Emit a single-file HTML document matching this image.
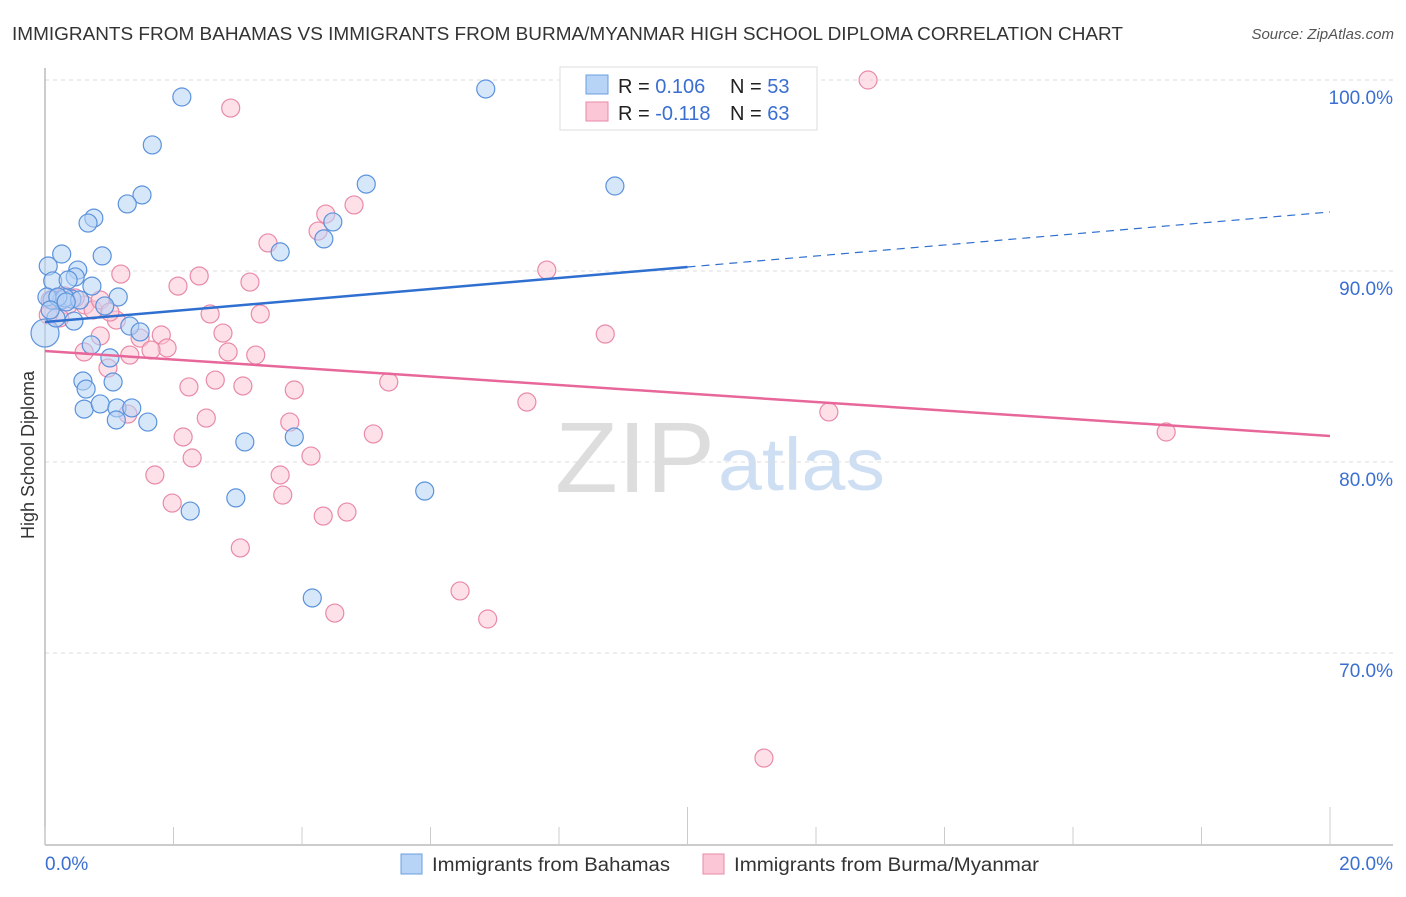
<!DOCTYPE html>
<html><head><meta charset="utf-8"><style>
body{margin:0;background:#fff;font-family:"Liberation Sans",sans-serif}
svg text{font-family:"Liberation Sans",sans-serif}
</style></head><body>
<svg width="1406" height="892" viewBox="0 0 1406 892" id="c">
<text x="12" y="40" font-size="18" fill="#333" textLength="1111" lengthAdjust="spacingAndGlyphs">IMMIGRANTS FROM BAHAMAS VS IMMIGRANTS FROM BURMA/MYANMAR HIGH SCHOOL DIPLOMA CORRELATION CHART</text>
<text x="1394" y="39" font-size="15" fill="#555" font-style="italic" text-anchor="end">Source: ZipAtlas.com</text>
<text x="555" y="492" font-size="100" fill="#ddd" textLength="160" lengthAdjust="spacingAndGlyphs" font-family="Liberation Serif">ZIP</text>
<text x="718" y="490" font-size="74" fill="#cfdff3" textLength="167" lengthAdjust="spacingAndGlyphs">atlas</text>
<text transform="translate(34,455) rotate(-90)" font-size="18" fill="#333" text-anchor="middle">High School Diploma</text>
<g id="grid"></g><g id="pts"></g><g id="lines"></g>
<g>
<rect x="560" y="67" width="257" height="63" fill="#fff" stroke="#ddd"/>
<rect x="586" y="75" width="22" height="19" fill="#b7d3f5" stroke="#6a9fe0"/>
<rect x="586" y="102" width="22" height="19" fill="#fbc7d6" stroke="#e98aa8"/>
<text x="618" y="93" font-size="20" fill="#222">R = <tspan fill="#3a6fd1"> 0.106</tspan><tspan x="730">N = </tspan><tspan fill="#3a6fd1">53</tspan></text>
<text x="618" y="120" font-size="20" fill="#222">R = <tspan fill="#3a6fd1">-0.118</tspan><tspan x="730">N = </tspan><tspan fill="#3a6fd1">63</tspan></text>
</g>
<g>
<rect x="401" y="854" width="21" height="20" fill="#b7d3f5" stroke="#6a9fe0"/>
<text x="432" y="871" font-size="19" fill="#333" textLength="238" lengthAdjust="spacingAndGlyphs">Immigrants from Bahamas</text>
<rect x="703" y="854" width="21" height="20" fill="#fbc7d6" stroke="#e98aa8"/>
<text x="734" y="871" font-size="19" fill="#333" textLength="305" lengthAdjust="spacingAndGlyphs">Immigrants from Burma/Myanmar</text>
</g>
</svg>
<script>
const yTicks=[100,90,80,70];
const xTickLabels=["0.0%","20.0%"];
const blueX=[2.13,6.86,1.67,8.87,5.00,1.51,1.28,0.76,0.67,4.48,4.34,3.66,0.26,0.89,0.05,0.51,0.47,0.12,0.36,0.73,1.14,0.11,0.26,0.42,0.93,0,0.45,0.17,1.32,1.48,0.72,1.01,0.59,1.06,0.61,0.86,1.12,1.35,1.11,1.60,3.11,3.88,2.97,2.26,5.91,4.16,0.03,0.31,0.20,0.08,0.64,0.54,0.33];
const blueY=[99.11,99.53,96.60,94.45,94.55,93.98,93.51,92.77,92.51,92.57,91.68,91.0,90.89,90.79,90.26,90.05,89.69,89.48,89.53,89.21,88.64,88.48,88.48,88.53,88.17,86.75,87.38,87.54,87.12,86.81,86.13,85.45,84.24,84.19,82.77,83.04,82.83,82.83,82.20,82.09,81.05,81.31,78.12,77.43,78.48,72.88,88.64,88.59,88.64,87.96,83.82,88.48,88.38];
const pinkX=[12.81,2.89,3.47,4.37,4.81,4.25,7.81,1.18,2.40,3.19,2.07,2.57,3.35,1.11,8.72,2.77,1.81,0.86,1.48,1.90,0.61,2.85,1.65,1.32,3.28,0.98,2.65,2.24,3.08,3.88,5.35,7.50,12.20,17.45,2.51,3.81,5.11,2.15,1.29,2.29,4.14,1.71,3.66,1.98,3.70,4.33,4.70,3.04,6.46,4.51,6.89,11.19,0.16,0.36,0.62,0.75,0.23,0.08,0.47,0.31,0.86,0.05,1.01];
const pinkY=[100.0,98.53,91.47,92.98,93.46,92.09,90.05,89.84,89.74,89.42,89.21,87.75,87.75,87.43,86.70,86.75,86.65,86.60,86.49,85.97,85.76,85.76,85.86,85.60,85.60,84.92,84.29,83.93,83.98,83.77,84.19,83.14,82.62,81.57,82.30,82.09,81.47,81.31,82.51,80.21,80.31,79.32,79.32,77.85,78.27,77.17,77.38,75.50,73.25,72.09,71.78,64.50,88.48,88.22,88.22,87.96,87.54,88.48,88.59,88.69,88.48,87.70,87.85];
const blueTrend=[87.33,93.09];
const pinkTrend=[85.81,81.36];
const X=v=>45+v/20*1285, Y=v=>80+(100-v)*19.1;
const NS="http://www.w3.org/2000/svg";
function mk(t,a,p){const e=document.createElementNS(NS,t);for(const k in a)e.setAttribute(k,a[k]);p.appendChild(e);return e;}
const g=document.getElementById('grid');
yTicks.forEach(t=>{
 const l=mk('line',{x1:45,x2:1393,y1:Y(t),y2:Y(t),stroke:'#ddd','stroke-dasharray':'4,4'},g);
 
 
 const tx=mk('text',{x:1393,y:Y(t)+24,'font-size':19,fill:'#3a6fd1','text-anchor':'end'},g);tx.textContent=t.toFixed(1)+'%';
 
 
});
const ax=mk('line',{x1:45,x2:1393,y1:845,y2:845,stroke:'#bbb','stroke-width':1.5},g);


const ay=mk('line',{x1:45,x2:45,y1:68,y2:845,stroke:'#bbb','stroke-width':1.5},g);


for(let i=0;i<=20;i+=2){const t=mk('line',{x1:X(i),x2:X(i),y1:(i%10==0&&i>0)?807:827,y2:845,stroke:'#ccc'},g);
 
 }
xTickLabels.forEach((s,i)=>{const t=mk('text',{x:i?1393:45,y:870,'font-size':19,fill:'#3a6fd1','text-anchor':i?'end':'start'},g);t.textContent=s;
 
 });
const p=document.getElementById('pts');
function pts(xs,ys,f,s,n){xs.forEach((x,i)=>{const c=mk('circle',{cx:X(x),cy:Y(ys[i]),r:(x===0?14:9),fill:f,'fill-opacity':0.55,stroke:s,'stroke-width':1.2},p);
 
 });}
pts(pinkX,pinkY,'#fbc7d6','#e98aa8','pink-point');
pts(blueX,blueY,'#b7d3f5','#5b92dc','blue-point');
const L=document.getElementById('lines');
const b1=mk('line',{x1:X(0),y1:Y(blueTrend[0]),x2:X(10),y2:Y((blueTrend[0]+blueTrend[1])/2),stroke:'#2f6fd0','stroke-width':2.5},L);


const b2=mk('line',{x1:X(10),y1:Y((blueTrend[0]+blueTrend[1])/2),x2:X(20),y2:Y(blueTrend[1]),stroke:'#2f6fd0','stroke-width':1.2,'stroke-dasharray':'8,6'},L);


const p1=mk('line',{x1:X(0),y1:Y(pinkTrend[0]),x2:X(20),y2:Y(pinkTrend[1]),stroke:'#e8679a','stroke-width':2.5},L);


</script>
</body></html>
